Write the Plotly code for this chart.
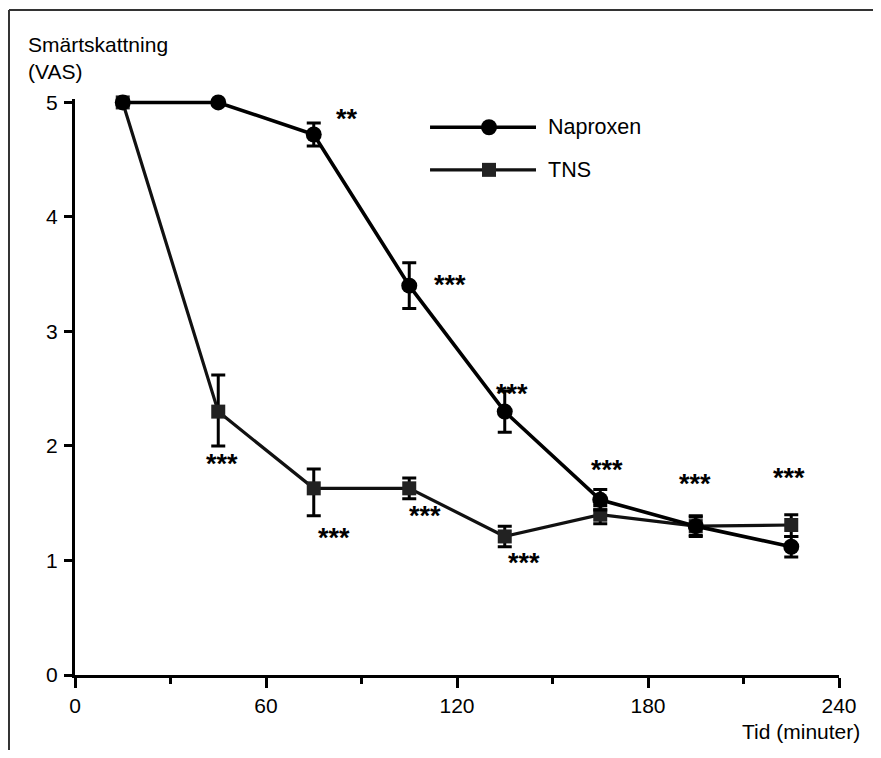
import plotly.graph_objects as go

# ---- data ----
time_min = [15, 45, 75, 105, 135, 165, 195, 225]
naproxen = [5.0, 5.0, 4.72, 3.40, 2.30, 1.53, 1.30, 1.12]
naproxen_err = [0, 0, 0.10, 0.20, 0.18, 0.09, 0.08, 0.09]
tns = [5.0, 2.30, 1.63, 1.63, 1.21, 1.40, 1.30, 1.31]
tns_err_plus = [0, 0.32, 0.17, 0.09, 0.09, 0.08, 0.09, 0.09]
tns_err_minus = [0, 0.30, 0.24, 0.09, 0.09, 0.08, 0.09, 0.10]

x_ticks = [0, 60, 120, 180, 240]
y_ticks = [0, 1, 2, 3, 4, 5]

# significance labels (x, y, text)
sig_x = [85.5, 117.8, 137.3, 167.0, 194.8, 224.3, 46.2, 81.4, 110.0, 141.0]
sig_y = [4.90, 3.45, 2.50, 1.83, 1.71, 1.76, 1.885, 1.24, 1.43, 1.02]
sig_text = ["**", "***", "***", "***", "***", "***", "***", "***", "***", "***"]

FONT = "Liberation Sans, Arial, sans-serif"

fig = go.Figure()

fig.add_trace(go.Scatter(
    x=time_min, y=tns, mode="lines+markers", name="TNS",
    line=dict(color="#111111", width=3.2),
    marker=dict(symbol="square", size=14, color="#222222"),
    error_y=dict(type="data", symmetric=False, array=tns_err_plus,
                 arrayminus=tns_err_minus, color="black", thickness=3, width=7),
    cliponaxis=False, showlegend=False,
))
fig.add_trace(go.Scatter(
    x=time_min, y=naproxen, mode="lines+markers", name="Naproxen",
    line=dict(color="black", width=3.6),
    marker=dict(symbol="circle", size=16, color="black"),
    error_y=dict(type="data", array=naproxen_err, color="black",
                 thickness=3, width=7),
    cliponaxis=False, showlegend=False,
))

# custom legend on hidden overlay axes (0..1 across the plot area)
fig.add_trace(go.Scatter(
    x=[0.4647, 0.5419, 0.6034], y=[0.951, 0.951, 0.951], mode="lines",
    line=dict(color="black", width=3.6), xaxis="x2", yaxis="y2",
    showlegend=False, hoverinfo="skip"))
fig.add_trace(go.Scatter(
    x=[0.5419], y=[0.951], mode="markers",
    marker=dict(symbol="circle", size=16, color="black"), xaxis="x2", yaxis="y2",
    showlegend=False, hoverinfo="skip", cliponaxis=False))
fig.add_trace(go.Scatter(
    x=[0.4647, 0.5419, 0.6034], y=[0.877, 0.877, 0.877], mode="lines",
    line=dict(color="#111111", width=3.2), xaxis="x2", yaxis="y2",
    showlegend=False, hoverinfo="skip"))
fig.add_trace(go.Scatter(
    x=[0.5419], y=[0.877], mode="markers",
    marker=dict(symbol="square", size=14, color="#222222"), xaxis="x2", yaxis="y2",
    showlegend=False, hoverinfo="skip", cliponaxis=False))

annotations = [
    dict(x=0.6165, y=0.951, xref="x2", yref="y2", text="Naproxen", showarrow=False,
         xanchor="left", yanchor="middle", font=dict(size=21.5, color="black", family=FONT)),
    dict(x=0.6165, y=0.877, xref="x2", yref="y2", text="TNS", showarrow=False,
         xanchor="left", yanchor="middle", font=dict(size=21.5, color="black", family=FONT)),
    dict(x=-0.064, y=1.0716, xref="paper", yref="paper", text="Smärtskattning<br>(VAS)",
         showarrow=False, xanchor="left", yanchor="middle", align="left",
         font=dict(size=21, color="black", family=FONT)),
    dict(x=1.030, y=-0.098, xref="paper", yref="paper", text="Tid (minuter)",
         showarrow=False, xanchor="right", yanchor="middle",
         font=dict(size=21, color="black", family=FONT)),
]
for sx, sy, st in zip(sig_x, sig_y, sig_text):
    annotations.append(dict(x=sx, y=sy, xref="x", yref="y", text="<b>" + st + "</b>",
                            showarrow=False, xanchor="center", yanchor="middle", yshift=-5,
                            font=dict(size=27, color="black", family=FONT)))

shapes = [
    dict(type="line", xref="paper", yref="paper", x0=-0.0864, x1=-0.0864, y0=1.1545, y1=-0.3,
         line=dict(color="#333333", width=2)),
    dict(type="line", xref="paper", yref="paper", x0=-0.0864, x1=1.2, y0=1.1545, y1=1.1545,
         line=dict(color="#333333", width=2)),
]

fig.update_layout(
    width=865, height=742,
    margin=dict(l=67, r=34, t=91, b=75),
    paper_bgcolor="white", plot_bgcolor="white",
    font=dict(family=FONT, size=21, color="black"),
    annotations=annotations, shapes=shapes,
    xaxis=dict(range=[0, 240], tickvals=x_ticks, showgrid=False, zeroline=False,
               showline=True, linecolor="black", linewidth=3,
               ticks="outside", ticklen=10, tickwidth=3, tickcolor="black",
               minor=dict(dtick=30, tick0=0, ticks="outside", ticklen=6,
                          tickwidth=2.5, tickcolor="black"),
               tickfont=dict(size=21, family=FONT)),
    yaxis=dict(range=[0, 5.03], tickvals=y_ticks, showgrid=False, zeroline=False,
               showline=True, linecolor="black", linewidth=3,
               ticks="outside", ticklen=8, tickwidth=3, tickcolor="black",
               ticklabelstandoff=2, tickfont=dict(size=21, family=FONT)),
    xaxis2=dict(overlaying="x", range=[0, 1], visible=False),
    yaxis2=dict(overlaying="y", range=[0, 1], visible=False),
)

fig.write_html("out.html", config={"displayModeBar": False})
